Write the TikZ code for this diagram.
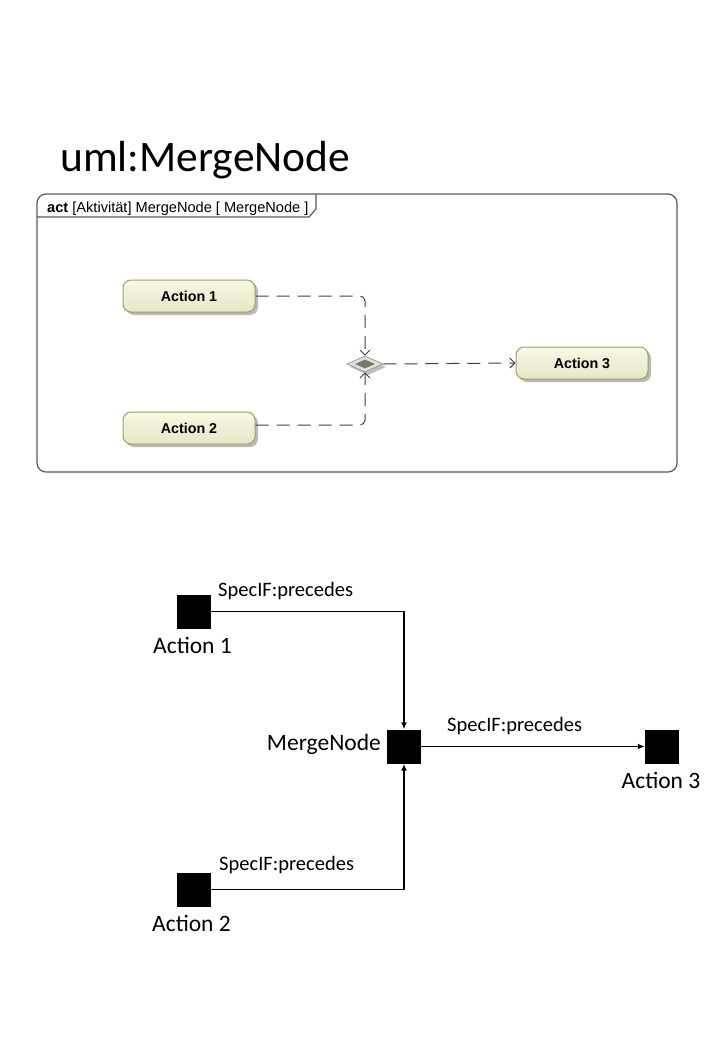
\documentclass[tikz,border=0pt]{standalone}
\usepackage{fontspec}
\setmainfont{Carlito}
\newfontfamily\arialf{Liberation Sans}
\usetikzlibrary{arrows.meta,shadows,shapes.geometric}
\definecolor{actfillA}{RGB}{248,248,230}
\definecolor{actfillB}{RGB}{230,230,198}
\definecolor{actborder}{RGB}{160,160,100}
\definecolor{framecol}{RGB}{90,90,90}
\definecolor{dashcol}{RGB}{64,64,64}
\definecolor{mergein}{RGB}{120,122,96}
\tikzset{
  framebox/.style={draw=framecol, line width=1.2pt},
  actionbox/.style={rounded corners=8pt, draw=actborder, line width=1pt,
    top color=actfillA, bottom color=actfillB,
    minimum width=132pt, minimum height=32pt, inner sep=0pt,
    font=\arialf\bfseries\fontsize{14.3}{16}\selectfont,
    drop shadow={shadow xshift=3pt, shadow yshift=-3pt, fill=black!45, opacity=0.6}},
  flowedge/.style={draw=dashcol, line width=1pt, dash pattern=on 13pt off 8pt,
    rounded corners=5pt, -{Straight Barb[length=5pt,width=10pt]}},
  blacksq/.style={fill=black, draw=none, minimum size=34pt, inner sep=0pt},
  nodelbl/.style={font=\fontsize{23.5}{26}\selectfont, inner sep=0pt},
  edgelbl/.style={font=\fontsize{20.5}{23}\selectfont, inner sep=0pt, anchor=base west},
  relarrow/.style={line width=1.8pt, -{Latex[length=7pt,width=6pt]}}
}
\begin{document}
\begin{tikzpicture}[x=1pt,y=-1pt]
\useasboundingbox[fill=white] (0,0) rectangle (720,1047);

% title
\node[anchor=base west, inner sep=0pt, font=\fontsize{43.5}{50}\selectfont] (title) at (60,171) {uml:MergeNode};

% frame
\draw[framebox, rounded corners=9pt] (37,194) rectangle (677,472);
\draw[framebox] (37,217) -- (309,217) -- (316,209) -- (316,194);
\node[anchor=base west, inner sep=0pt, font=\arialf\fontsize{14.6}{16}\selectfont] (hdr) at (47,212)
  {\textbf{act} [Aktivität] MergeNode [ MergeNode ]};

% actions
\node[actionbox] (a1) at (189,296) {Action 1};
\node[actionbox] (a2) at (189,428) {Action 2};
\node[actionbox] (a3) at (582,363) {Action 3};

% merge diamond
\fill[black!40, opacity=0.6] (350,367) -- (368,359) -- (386,367) -- (368,375) -- cycle;
\node[diamond, aspect=2.3, minimum width=36pt, minimum height=16pt, inner sep=0pt,
  fill=black!12, draw=black!45, line width=0.6pt] (m) at (365,364) {};
\node[diamond, aspect=2.3, minimum width=20pt, minimum height=9pt, inner sep=0pt,
  fill=mergein, draw=none] (mi) at (365,364) {};

\draw[flowedge] (a1.east) -| (m.north);
\draw[flowedge] ([yshift=3pt]a2.east) -| (m.south);
\draw[flowedge] (m.east) -- (a3.west);

% lower diagram
\node[blacksq] (b1) at (194,611.5) {};
\node[blacksq] (b2) at (194,889.5) {};
\node[blacksq] (mn) at (404,746.5) {};
\node[blacksq] (b3) at (662,746.5) {};

\node[nodelbl, anchor=base] (l1) at (192.5,653) {Action 1};
\node[nodelbl, anchor=base] (l2) at (191.5,931) {Action 2};
\node[nodelbl, anchor=base] (l3) at (661,788) {Action 3};
\node[nodelbl, anchor=base east] (lm) at (381,750) {MergeNode};

\draw[relarrow] (b1.east) -| (mn.north);
\draw[relarrow] (b2.east) -| (mn.south);
\draw[relarrow] (mn.east) -- (b3.west);

\node[edgelbl] (e1) at (218,596) {SpecIF:precedes};
\node[edgelbl] (e2) at (447,731) {SpecIF:precedes};
\node[edgelbl] (e3) at (219,870) {SpecIF:precedes};
\end{tikzpicture}
\end{document}
